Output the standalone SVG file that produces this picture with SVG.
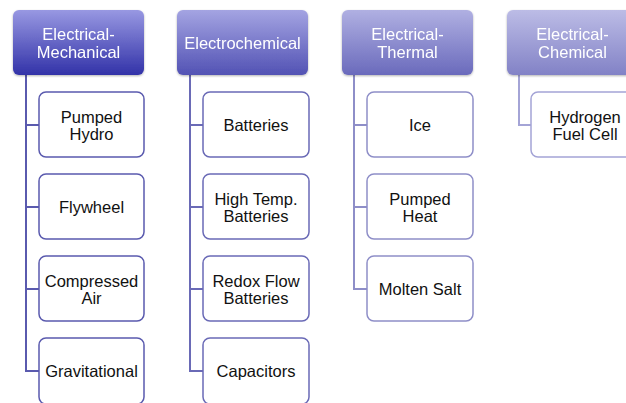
<svg xmlns="http://www.w3.org/2000/svg" width="626" height="403" viewBox="0 0 626 403">
<defs>
<linearGradient id="g1" x1="0" y1="0" x2="0" y2="1"><stop offset="0" stop-color="#9898e2"/><stop offset="1" stop-color="#3232a8"/></linearGradient>
<linearGradient id="g2" x1="0" y1="0" x2="0" y2="1"><stop offset="0" stop-color="#a4a4e2"/><stop offset="1" stop-color="#5252b4"/></linearGradient>
<linearGradient id="g3" x1="0" y1="0" x2="0" y2="1"><stop offset="0" stop-color="#b0b0e2"/><stop offset="1" stop-color="#6a6abc"/></linearGradient>
<linearGradient id="g4" x1="0" y1="0" x2="0" y2="1"><stop offset="0" stop-color="#bcbce6"/><stop offset="1" stop-color="#8282c6"/></linearGradient>
<filter id="sh" x="-10%" y="-10%" width="120%" height="130%"><feDropShadow dx="0" dy="1" stdDeviation="1.2" flood-color="#000" flood-opacity="0.3"/></filter>
</defs>
<style>
.hd{filter:url(#sh)}
.hd text{fill:#ffffff;font-family:"Liberation Sans",Arial,sans-serif;font-size:16.5px;text-anchor:middle}
.bx rect{fill:#ffffff;stroke-width:1.5}
.bx text{fill:#111111;font-family:"Liberation Sans",Arial,sans-serif;font-size:16.5px;text-anchor:middle}
.c1{stroke:#5a5aae}.c2{stroke:#6a6ab6}.c3{stroke:#8e8ec8}.c4{stroke:#a4a4d6}
#connectors path{fill:none;stroke-width:2}
</style>
<rect width="626" height="403" fill="#ffffff"/>
<g id="connectors">
<path class="c1" d="M26,75 V371 H39 M26,125 H39 M26,207 H39 M26,289 H39"/>
<path class="c2" d="M190,75 V371 H203 M190,125 H203 M190,207 H203 M190,289 H203"/>
<path class="c3" d="M354,75 V289 H367 M354,125 H367 M354,207 H367"/>
<path class="c4" d="M519,75 V125 H531"/>
</g>
<g id="h1" class="hd"><rect x="13" y="10" width="131" height="65" rx="6" fill="url(#g1)"/><text x="78.5" y="40">Electrical-</text><text x="78.5" y="58">Mechanical</text></g>
<g id="h2" class="hd"><rect x="177" y="10" width="131" height="65" rx="6" fill="url(#g2)"/><text x="242.5" y="49">Electrochemical</text></g>
<g id="h3" class="hd"><rect x="342" y="10" width="131" height="65" rx="6" fill="url(#g3)"/><text x="407.5" y="40">Electrical-</text><text x="407.5" y="58">Thermal</text></g>
<g id="h4" class="hd"><rect x="507" y="10" width="131" height="65" rx="6" fill="url(#g4)"/><text x="572.5" y="40">Electrical-</text><text x="572.5" y="58">Chemical</text></g>

<g id="b11" class="bx"><rect class="c1" x="39" y="92" width="105" height="65" rx="7"/><text x="91.5" y="122.5">Pumped</text><text x="91.5" y="140">Hydro</text></g>
<g id="b12" class="bx"><rect class="c1" x="39" y="174" width="105" height="65" rx="7"/><text x="91.5" y="213">Flywheel</text></g>
<g id="b13" class="bx"><rect class="c1" x="39" y="256" width="105" height="65" rx="7"/><text x="91.5" y="286.5">Compressed</text><text x="91.5" y="304">Air</text></g>
<g id="b14" class="bx"><rect class="c1" x="39" y="338" width="105" height="66" rx="7"/><text x="91.5" y="377">Gravitational</text></g>

<g id="b21" class="bx"><rect class="c2" x="203" y="92" width="106" height="65" rx="7"/><text x="256" y="131">Batteries</text></g>
<g id="b22" class="bx"><rect class="c2" x="203" y="174" width="106" height="65" rx="7"/><text x="256" y="204.5">High Temp.</text><text x="256" y="222">Batteries</text></g>
<g id="b23" class="bx"><rect class="c2" x="203" y="256" width="106" height="65" rx="7"/><text x="256" y="286.5">Redox Flow</text><text x="256" y="304">Batteries</text></g>
<g id="b24" class="bx"><rect class="c2" x="203" y="338" width="106" height="66" rx="7"/><text x="256" y="377">Capacitors</text></g>

<g id="b31" class="bx"><rect class="c3" x="367" y="92" width="106" height="65" rx="7"/><text x="420" y="131">Ice</text></g>
<g id="b32" class="bx"><rect class="c3" x="367" y="174" width="106" height="65" rx="7"/><text x="420" y="204.5">Pumped</text><text x="420" y="222">Heat</text></g>
<g id="b33" class="bx"><rect class="c3" x="367" y="256" width="106" height="65" rx="7"/><text x="420" y="295">Molten Salt</text></g>

<g id="b41" class="bx"><rect class="c4" x="531" y="92" width="108" height="65" rx="7"/><text x="585" y="122.5">Hydrogen</text><text x="585" y="140">Fuel Cell</text></g>
</svg>
